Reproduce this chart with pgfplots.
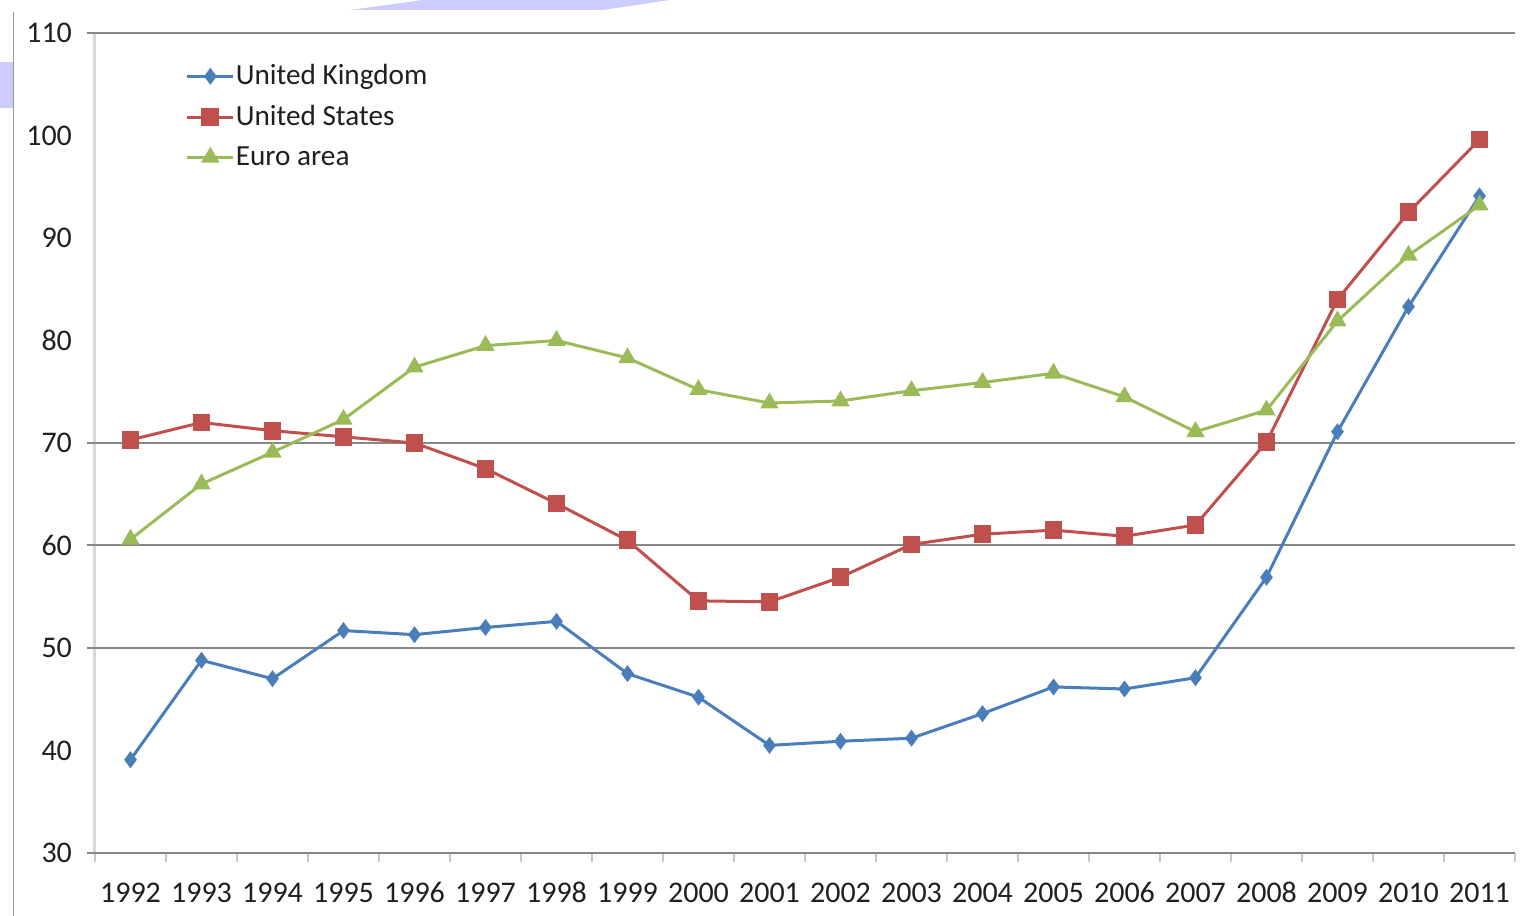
\documentclass[border=0pt]{standalone}
\usepackage{pgfplots}
\pgfplotsset{compat=1.18}
\usepackage{fontspec}
\setmainfont{Carlito}
\definecolor{ukblue}{HTML}{4A7EBB}
\definecolor{usred}{HTML}{C0504D}
\definecolor{eugreen}{HTML}{9BBB59}
\definecolor{lav}{HTML}{CCCCFF}
\pgfplotstableread{
x uk us eu
0 39.1 70.3 60.6
1 48.8 72.0 66.0
2 47.0 71.2 69.1
3 51.7 70.6 72.3
4 51.3 70.0 77.4
5 52.0 67.5 79.5
6 52.6 64.1 80.0
7 47.5 60.5 78.3
8 45.2 54.6 75.2
9 40.5 54.5 73.9
10 40.9 56.9 74.1
11 41.2 60.1 75.1
12 43.6 61.1 75.9
13 46.2 61.5 76.8
14 46.0 60.9 74.5
15 47.1 62.0 71.1
16 56.9 70.1 73.2
17 71.1 84.0 81.9
18 83.3 92.5 88.3
19 94.1 99.6 93.2
}\datatable
\begin{document}
\begin{tikzpicture}
\useasboundingbox (-47.5pt,-31.5pt) rectangle (713.5pt,426.5pt);
\fill[lav] (127.5pt,421.5pt) -- (164pt,426.5pt) -- (287.5pt,426.5pt) -- (254pt,421.5pt) -- cycle;
\fill[lav] (-47.5pt,395.5pt) -- (-41pt,395.5pt) -- (-41pt,372.5pt) -- (-47.5pt,372.5pt) -- cycle;
\draw[color=black!40, line width=0.8pt] (-40.75pt,420.5pt) -- (-40.75pt,-31.5pt);
\begin{axis}[
  at={(0,0)}, anchor=south west,
  scale only axis, width=710pt, height=410pt,
  xmin=-0.5, xmax=19.5, ymin=30, ymax=110,
  axis x line*=bottom, axis y line*=left,
  x axis line style={draw=black!47, line width=1pt, -},
  y axis line style={draw=black!15, line width=1.5pt, -},
  xtick={0,...,19},
  xticklabels={1992,1993,1994,1995,1996,1997,1998,1999,2000,2001,2002,2003,2004,2005,2006,2007,2008,2009,2010,2011},
  minor xtick={-0.5,0.5,...,19.5},
  major tick length=0pt,
  minor tick length=4.5pt,
  tick align=outside,
  minor tick style={draw=black!22, line width=1pt},
  ytick={30,40,...,110},
  extra y ticks={30,50,60,70,110},
  extra y tick labels={},
  extra y tick style={grid=major, major tick length=4pt, tick style={draw=black!47, line width=1pt}},
  major grid style={draw=black!47, line width=1pt},
  tick label style={font=\fontsize{15}{17}\selectfont, text=black!88},
  /pgf/number format/assume math mode=true,
  xticklabel style={yshift=-11pt, text height=10pt, text depth=0pt},
  yticklabel style={xshift=-8pt},
  legend style={at={(rel axis cs:0.0595,0.968)}, anchor=north west, draw=none, fill=none,
    font=\fontsize{14.6}{17}\selectfont, row sep=7.8pt, nodes={inner sep=0.5pt, text=black!88}},
  legend cell align=left,
  legend image code/.code={\draw[mark repeat=2,mark phase=2] plot coordinates {(0pt,0pt) (11.5pt,0pt) (23pt,0pt)};},
  clip=false,
]
\addplot[color=ukblue, line width=1.5pt, mark=diamond*, mark size=3pt, mark options={fill=ukblue}] table[x=x,y=uk] {\datatable};
\addlegendentry{United Kingdom}
\addplot[color=usred, line width=1.5pt, mark=square*, mark size=3.7pt, mark options={fill=usred}] table[x=x,y=us] {\datatable};
\addlegendentry{United States}
\addplot[color=eugreen, line width=1.5pt, mark=triangle*, mark size=3.8pt, mark options={fill=eugreen}] table[x=x,y=eu] {\datatable};
\addlegendentry{Euro area}
\end{axis}
\end{tikzpicture}
\end{document}
